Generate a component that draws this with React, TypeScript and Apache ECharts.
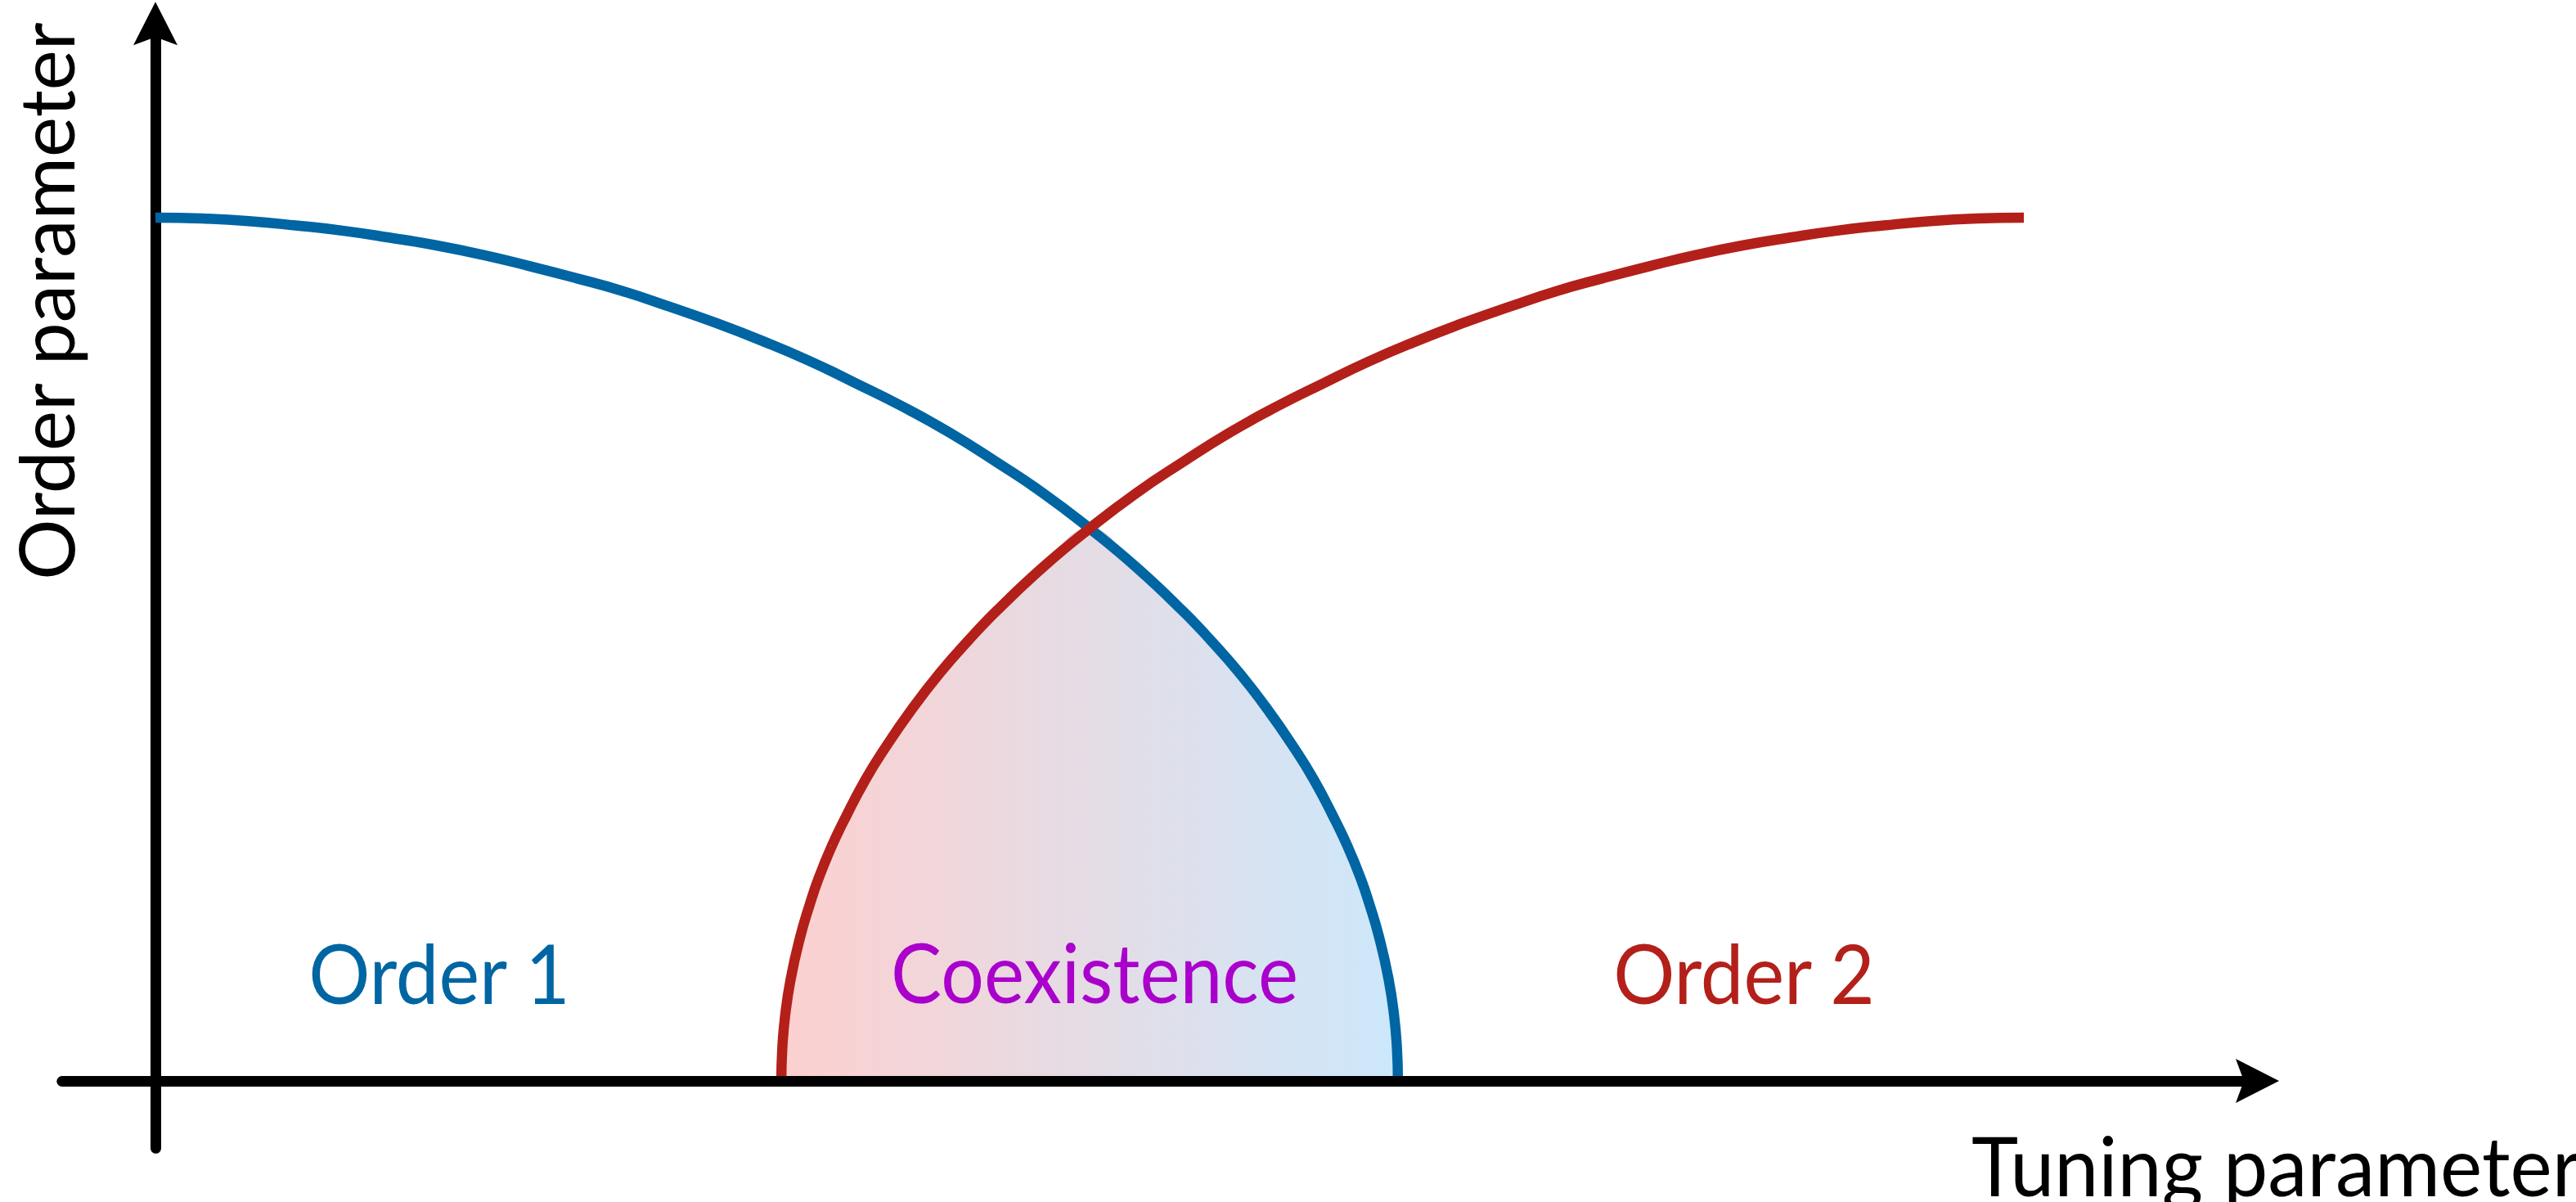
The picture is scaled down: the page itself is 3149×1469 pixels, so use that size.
import React, { useEffect, useRef } from "react";
import * as echarts from "echarts";

// Order-1 phase boundary (blue)
const blueX = [0, 0.025, 0.05, 0.075, 0.1, 0.125, 0.15, 0.175, 0.2, 0.225, 0.25, 0.275, 0.3, 0.325, 0.35, 0.375, 0.4, 0.425, 0.45, 0.475, 0.5, 0.525, 0.55, 0.565, 0.58, 0.595, 0.61, 0.62, 0.63, 0.638, 0.645, 0.65, 0.655, 0.66, 0.663, 0.6645, 0.665];
const blueY = [1.0, 0.999, 0.996, 0.991, 0.985, 0.977, 0.968, 0.957, 0.944, 0.93, 0.915, 0.897, 0.878, 0.857, 0.834, 0.808, 0.781, 0.751, 0.717, 0.681, 0.64, 0.595, 0.544, 0.51, 0.473, 0.431, 0.384, 0.349, 0.308, 0.272, 0.235, 0.203, 0.166, 0.118, 0.075, 0.037, 0];

// Order-2 phase boundary (red)
const redX = [0.335, 0.3355, 0.337, 0.34, 0.345, 0.35, 0.355, 0.362, 0.37, 0.38, 0.39, 0.405, 0.42, 0.435, 0.45, 0.475, 0.5, 0.525, 0.55, 0.575, 0.6, 0.625, 0.65, 0.675, 0.7, 0.725, 0.75, 0.775, 0.8, 0.825, 0.85, 0.875, 0.9, 0.925, 0.95, 0.975, 1.0];
const redY = [0, 0.037, 0.075, 0.118, 0.166, 0.203, 0.235, 0.272, 0.308, 0.349, 0.384, 0.431, 0.473, 0.51, 0.544, 0.595, 0.64, 0.681, 0.717, 0.751, 0.781, 0.808, 0.834, 0.857, 0.878, 0.897, 0.915, 0.93, 0.944, 0.957, 0.968, 0.977, 0.985, 0.991, 0.996, 0.999, 1.0];

const regionLabels = ["Order 1", "Coexistence", "Order 2"];
const axisTitles = ["Tuning parameter", "Order parameter"];

const BLUE = "#0065A3";
const RED = "#B3201A";
const PURPLE = "#AA00CC";

const W = 3149;
const H = 1469;
const FONT = "Lato, 'Liberation Sans', sans-serif";
const ARROW = "path://M0,0 L27,53 L0,43 L-27,53 Z";

export default function App() {
  const ref = useRef<HTMLDivElement>(null);

  useEffect(() => {
    if (!ref.current) return;
    const chart = echarts.init(ref.current, undefined, { renderer: "svg", width: W, height: H });

    const blue = blueX.map((x, i) => [x, blueY[i]]);
    const red = redX.map((x, i) => [x, redY[i]]);
    const coexist = [
      ...red.filter((p) => p[0] <= 0.5),
      ...blue.filter((p) => p[0] > 0.5),
    ];

    const xMin = -0.05, xMax = 1.125;
    const yMin = -0.078, yMax = 1.225;
    const pxX = 2284, pxY = 1055;
    const x0 = 190, y0 = 1321;

    const textStyle = (extra: any) => ({
      fontFamily: FONT,
      fontSize: 100,
      fontWeight: "normal",
      ...extra,
    });

    const axisCommon = {
      axisTick: { show: false },
      axisLabel: { show: false },
      splitLine: { show: false },
    };

    chart.setOption({
      animation: false,
      backgroundColor: "#ffffff",
      grid: {
        left: x0 + xMin * pxX,
        width: (xMax - xMin) * pxX,
        top: y0 - yMax * pxY,
        height: (yMax - yMin) * pxY,
        containLabel: false,
      },
      xAxis: {
        type: "value",
        min: xMin,
        max: xMax,
        z: 5,
        axisLine: {
          show: true,
          onZero: true,
          symbol: ["none", ARROW],
          symbolSize: [54, 53],
          lineStyle: { color: "#000", width: 13 },
        },
        ...axisCommon,
      },
      yAxis: {
        type: "value",
        min: yMin,
        max: yMax,
        z: 0,
        axisLine: {
          show: true,
          onZero: true,
          symbol: ["none", ARROW],
          symbolSize: [54, 53],
          lineStyle: { color: "#000", width: 13 },
        },
        ...axisCommon,
      },
      series: [
        {
          type: "line",
          data: coexist,
          symbol: "none",
          smooth: 0.5,
          lineStyle: { width: 0, opacity: 0 },
          areaStyle: {
            opacity: 1,
            color: new echarts.graphic.LinearGradient(0, 0, 1, 0, [
              { offset: 0, color: "#FDD0CF" },
              { offset: 1, color: "#CCE8FB" },
            ]),
          },
          z: 1,
          silent: true,
        },
        {
          type: "line",
          data: blue,
          symbol: "none",
          smooth: 0.5,
          lineStyle: { color: BLUE, width: 12.5, cap: "butt" },
          z: 2,
          silent: true,
        },
        {
          type: "line",
          data: red,
          symbol: "none",
          smooth: 0.5,
          lineStyle: { color: RED, width: 12.5, cap: "butt" },
          z: 3,
          silent: true,
        },
      ],
      graphic: [
        {
          type: "text",
          x: 537,
          y: 1188,
          z: 100,
          scaleX: 0.94,
          style: textStyle({ text: regionLabels[0], fill: BLUE, align: "center", verticalAlign: "middle", textAlign: "center", textVerticalAlign: "middle" }),
        },
        {
          type: "text",
          x: 1338,
          y: 1188,
          z: 100,
          scaleX: 0.93,
          style: textStyle({ text: regionLabels[1], fill: PURPLE, align: "center", verticalAlign: "middle", textAlign: "center", textVerticalAlign: "middle" }),
        },
        {
          type: "text",
          x: 2132,
          y: 1188,
          z: 100,
          scaleX: 0.94,
          style: textStyle({ text: regionLabels[2], fill: RED, align: "center", verticalAlign: "middle", textAlign: "center", textVerticalAlign: "middle" }),
        },
        {
          type: "text",
          x: 2410,
          y: 1423,
          z: 100,
          scaleX: 0.97,
          style: textStyle({ text: axisTitles[0], fill: "#000", align: "left", verticalAlign: "middle", textAlign: "left", textVerticalAlign: "middle" }),
        },
        {
          type: "text",
          x: 55,
          y: 368,
          z: 100,
          rotation: Math.PI / 2,
          style: textStyle({ text: axisTitles[1], fontSize: 93, fill: "#000", align: "center", verticalAlign: "middle", textAlign: "center", textVerticalAlign: "middle" }),
        },
      ],
    });

    return () => {
      chart.dispose();
    };
  }, []);

  return (
    <div
      ref={ref}
      style={{ position: "absolute", left: 0, top: 0, width: W, height: H, background: "#fff" }}
    />
  );
}
